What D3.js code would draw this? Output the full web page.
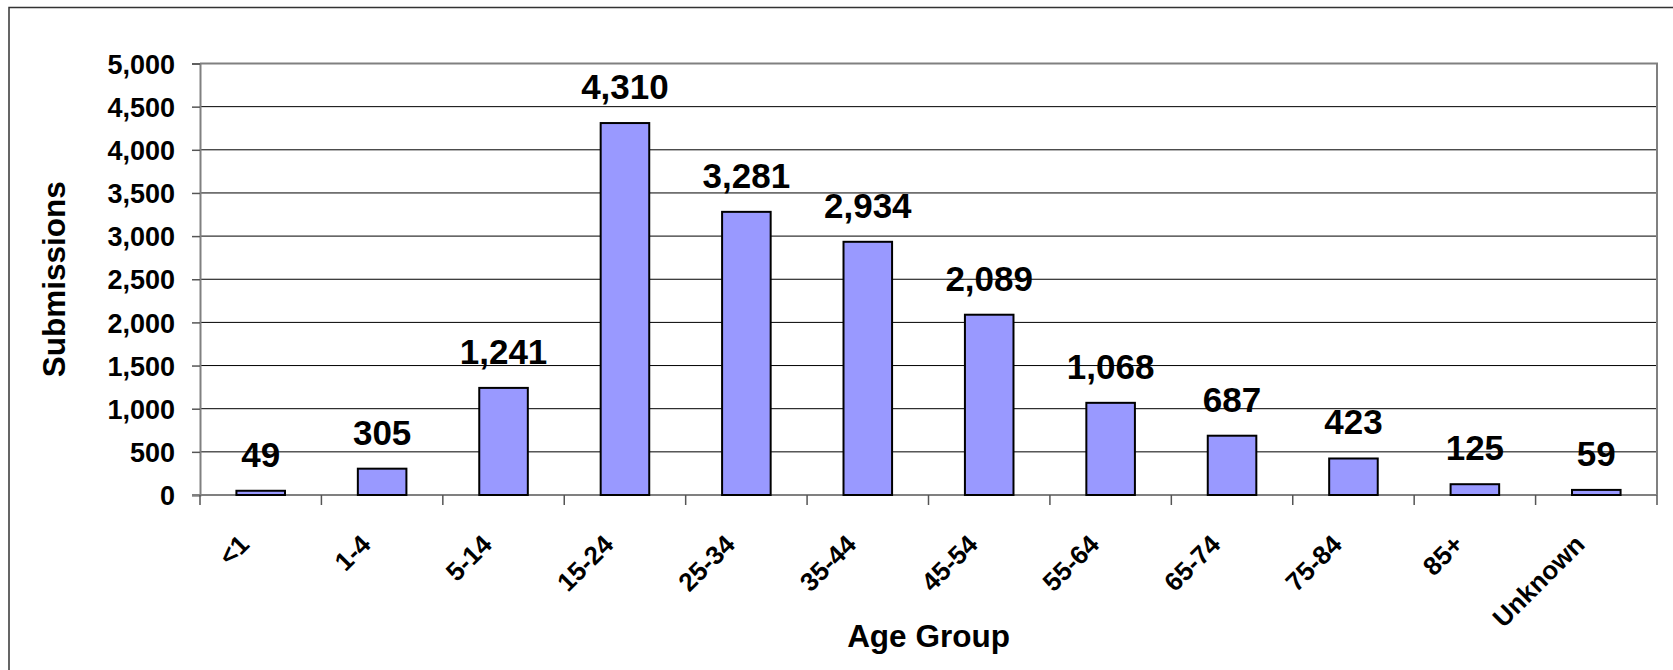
<!DOCTYPE html>
<html>
<head>
<meta charset="utf-8">
<script src="https://cdn.jsdelivr.net/npm/d3@7"></script>
<style>
  body { margin: 0; background: #fff; }
  svg { display: block; font-family: "Liberation Sans", Arial, sans-serif; font-weight: bold; }
</style>
</head>
<body>
<script>
//chart data
var ageGroups = ["<1", "1-4", "5-14", "15-24", "25-34", "35-44", "45-54", "55-64", "65-74", "75-84", "85+", "Unknown"];
var submissions = [49, 305, 1241, 4310, 3281, 2934, 2089, 1068, 687, 423, 125, 59];
var yTicks = [0, 500, 1000, 1500, 2000, 2500, 3000, 3500, 4000, 4500, 5000];

window.onload = drawChart();

function drawChart(){

    var width = 1673,
        height = 670;

    //plot area
    var left = 200, right = 1657, top = 63.5, bottom = 495;

    var svg = d3.select("body")
        .append("svg")
        .attr("width", width)
        .attr("height", height);

    //outer chart frame, cut off at right and bottom
    svg.append("rect")
        .attr("x", 9)
        .attr("y", 7.5)
        .attr("width", width)
        .attr("height", height)
        .attr("fill", "none")
        .attr("stroke", "#333")
        .attr("stroke-width", 1.5);

    var x = d3.scaleBand()
        .domain(ageGroups)
        .range([left, right]);

    var y = d3.scaleLinear()
        .domain([0, 5000])
        .range([bottom, top]);

    //gridlines
    svg.selectAll(".grid")
        .data(yTicks.slice(1, -1))
        .enter()
        .append("line")
        .attr("class", "grid")
        .attr("x1", left)
        .attr("x2", right)
        .attr("y1", function(d){ return y(d); })
        .attr("y2", function(d){ return y(d); })
        .attr("stroke", "#000")
        .attr("stroke-width", 1);

    //plot area top and right border
    svg.append("path")
        .attr("d", "M" + left + "," + y(5000) + "H" + right + "V" + bottom)
        .attr("fill", "none")
        .attr("stroke", "#808080")
        .attr("stroke-width", 2);

    //y axis
    var yAxis = svg.append("g")
        .attr("transform", "translate(" + left + ",0)")
        .call(d3.axisLeft(y).tickValues(yTicks).tickFormat(d3.format(",")).tickSize(8).tickPadding(17));
    yAxis.select(".domain").attr("stroke", "#808080").attr("stroke-width", 2);
    yAxis.selectAll(".tick line").attr("stroke", "#555").attr("stroke-width", 1.5);
    yAxis.selectAll(".tick text")
        .attr("font-family", "Liberation Sans, Arial, sans-serif")
        .attr("font-weight", "bold")
        .attr("font-size", 27)
        .attr("fill", "#000")
        .attr("dy", "0.36em");

    //x axis ticks on category boundaries
    var bounds = ageGroups.map(function(d){ return x(d); }).concat([right]);
    svg.append("line")
        .attr("x1", left - 8)
        .attr("x2", right)
        .attr("y1", bottom)
        .attr("y2", bottom)
        .attr("stroke", "#808080")
        .attr("stroke-width", 2);
    svg.selectAll(".xtick")
        .data(bounds)
        .enter()
        .append("line")
        .attr("class", "xtick")
        .attr("x1", function(d){ return d; })
        .attr("x2", function(d){ return d; })
        .attr("y1", bottom)
        .attr("y2", bottom + 10)
        .attr("stroke", "#555")
        .attr("stroke-width", 1.5);

    //x labels rotated
    svg.selectAll(".xlabel")
        .data(ageGroups)
        .enter()
        .append("text")
        .attr("class", "xlabel")
        .attr("text-anchor", "end")
        .attr("font-size", 26)
        .attr("transform", function(d){
            return "translate(" + (x(d) + x.bandwidth() / 2 - 10) + "," + 546 + ") rotate(-45)";
        })
        .text(function(d){ return d; });

    //bars
    var barW = x.bandwidth() * 0.4;
    svg.selectAll(".bar")
        .data(submissions)
        .enter()
        .append("rect")
        .attr("class", "bar")
        .attr("x", function(d, i){ return x(ageGroups[i]) + (x.bandwidth() - barW) / 2; })
        .attr("y", function(d){ return y(d); })
        .attr("width", barW)
        .attr("height", function(d){ return bottom - y(d); })
        .attr("fill", "#9999ff")
        .attr("stroke", "#000")
        .attr("stroke-width", 2);

    //value labels
    svg.selectAll(".value")
        .data(submissions)
        .enter()
        .append("text")
        .attr("class", "value")
        .attr("text-anchor", "middle")
        .attr("font-size", 35)
        .attr("x", function(d, i){ return x(ageGroups[i]) + x.bandwidth() / 2; })
        .attr("y", function(d){ return y(d) - 24; })
        .text(function(d){ return d3.format(",")(d); });

    //axis titles
    svg.append("text")
        .attr("text-anchor", "middle")
        .attr("font-size", 31.5)
        .attr("x", (left + right) / 2)
        .attr("y", 647)
        .text("Age Group");

    svg.append("text")
        .attr("text-anchor", "middle")
        .attr("font-size", 31.5)
        .attr("transform", "translate(65," + ((top + bottom) / 2) + ") rotate(-90)")
        .text("Submissions");
};
</script>
</body>
</html>
